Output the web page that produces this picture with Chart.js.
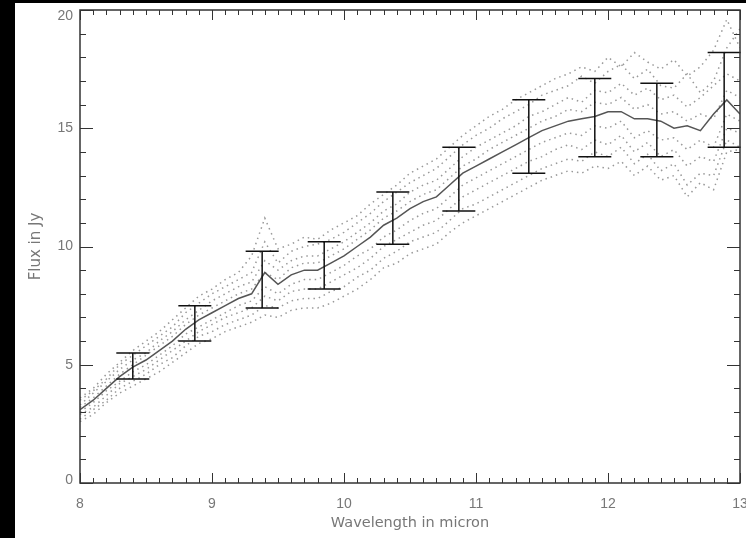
<!DOCTYPE html>
<html>
<head>
<meta charset="utf-8">
<script src="https://cdn.jsdelivr.net/npm/chart.js@4"></script>
<style>
  html, body { margin: 0; padding: 0; background: #000; overflow: hidden; }
  #wrap { position: absolute; left: 15px; top: 3px; width: 746px; height: 535px; background: #fff; }
</style>
</head>
<body>
<div id="wrap"><canvas id="chart"></canvas></div>
<script>
// wavelength grid (micron), step 0.1
const wavelength = [];
for (let i = 0; i <= 50; i++) wavelength.push(+(8 + i * 0.1).toFixed(1));

// mean spectrum (solid line)
const meanFlux = [3.1,3.5,4.0,4.5,4.9,5.2,5.6,6.0,6.5,6.9, 7.2,7.5,7.8,8.0,8.9,8.4,8.8,9.0,9.0,9.3,
  9.6,10.0,10.4,10.9,11.2,11.6,11.9,12.1,12.6,13.1, 13.4,13.7,14.0,14.3,14.6,14.9,15.1,15.3,15.4,15.5,
  15.7,15.7,15.4,15.4,15.3,15.0,15.1,14.9,15.6,16.2, 15.6];

// individual spectra (dotted lines)
const spec1 = [3.6,4.0,4.6,5.1,5.6,6.0,6.4,6.9,7.4,7.9, 8.2,8.6,8.9,9.6,11.2,9.9,10.1,10.4,10.3,10.7,
  11.0,11.3,11.8,12.2,12.6,13.1,13.4,13.7,14.2,14.7, 15.1,15.5,15.8,16.2,16.5,16.8,17.1,17.3,17.6,17.4,
  18.0,17.6,18.2,17.8,17.5,17.9,17.2,17.6,18.3,19.6, 18.4];
const spec2 = [3.5,3.9,4.4,5.0,5.4,5.8,6.2,6.6,7.2,7.6, 8.0,8.3,8.6,8.9,10.2,9.3,9.8,10.0,10.1,10.3,
  10.6,11.0,11.4,11.9,12.3,12.7,13.0,13.3,13.8,14.3, 14.7,15.0,15.4,15.7,16.0,16.4,16.6,16.8,17.2,16.9,
  17.4,17.7,17.1,17.5,16.8,16.7,17.3,16.5,17.0,18.4, 19.2];
const spec3 = [3.3,3.8,4.3,4.8,5.2,5.5,6.0,6.4,6.9,7.3, 7.7,8.0,8.3,8.5,9.4,9.0,9.4,9.6,9.6,9.9,
  10.2,10.6,11.0,11.5,11.8,12.3,12.6,12.8,13.3,13.8, 14.2,14.5,14.8,15.1,15.5,15.7,16.0,16.3,16.1,16.6,
  16.5,16.9,16.4,16.7,16.2,16.4,15.9,16.3,16.8,17.3, 17.0];
const spec4 = [3.2,3.6,4.1,4.6,5.0,5.4,5.8,6.2,6.7,7.1, 7.4,7.7,8.0,8.2,8.9,8.6,9.1,9.3,9.3,9.6,
  9.9,10.3,10.7,11.2,11.5,11.9,12.2,12.4,12.9,13.4, 13.7,14.1,14.4,14.7,15.0,15.3,15.5,15.8,15.7,16.1,
  16.0,16.3,15.8,16.0,15.6,15.7,15.3,15.6,15.4,16.6, 16.3];
const spec5 = [3.0,3.4,3.9,4.3,4.7,5.0,5.4,5.8,6.3,6.6, 6.9,7.2,7.5,7.7,8.3,8.0,8.4,8.6,8.6,8.9,
  9.2,9.6,9.9,10.4,10.7,11.1,11.4,11.6,12.1,12.6, 12.9,13.2,13.5,13.8,14.1,14.4,14.6,14.8,14.7,15.1,
  15.0,15.3,14.6,14.9,14.5,14.6,14.1,14.5,14.2,15.6, 15.3];
const spec6 = [2.9,3.2,3.7,4.2,4.5,4.8,5.2,5.6,6.0,6.4, 6.7,7.0,7.2,7.4,7.9,7.7,8.1,8.2,8.2,8.5,
  8.8,9.1,9.5,10.0,10.3,10.6,10.9,11.1,11.6,12.1, 12.4,12.7,13.0,13.3,13.6,13.8,14.1,14.3,14.1,14.5,
  14.3,14.7,14.0,14.4,13.8,14.1,13.4,13.8,13.6,15.0, 14.8];
const spec7 = [2.7,3.1,3.5,4.0,4.3,4.6,5.0,5.3,5.8,6.2, 6.4,6.7,6.9,7.1,7.5,7.4,7.7,7.8,7.8,8.1,
  8.3,8.7,9.0,9.5,9.8,10.2,10.4,10.6,11.1,11.6, 11.8,12.1,12.4,12.7,13.0,13.3,13.5,13.7,13.6,14.0,
  13.8,14.2,13.5,13.9,13.2,13.5,12.6,13.1,13.0,14.5, 14.2];
const spec8 = [2.6,2.9,3.4,3.8,4.1,4.4,4.7,5.1,5.5,5.9, 6.1,6.4,6.6,6.8,7.1,7.0,7.3,7.4,7.4,7.6,
  7.9,8.2,8.6,9.1,9.3,9.7,9.9,10.1,10.6,11.0, 11.3,11.6,11.9,12.2,12.5,12.8,13.0,13.2,13.1,13.4,
  13.3,13.6,13.0,13.4,12.8,13.0,12.1,12.7,12.4,14.0, 14.1];

// error bars
const errX  = [8.4, 8.87, 9.38, 9.85, 10.37, 10.87, 11.4, 11.9, 12.37, 12.88];
const errHi = [5.5, 7.5, 9.8, 10.2, 12.3, 14.2, 16.2, 17.1, 16.9, 18.2];
const errLo = [4.4, 6.0, 7.4, 8.2, 10.1, 11.5, 13.1, 13.8, 13.8, 14.2];

const xTicks = [8, 9, 10, 11, 12, 13];
const yTicks = [0, 5, 10, 15, 20];

const toPoints = ys => ys.map((y, i) => ({ x: wavelength[i], y: y }));

const dotted = [spec1, spec2, spec3, spec4, spec5, spec6, spec7, spec8].map(s => ({
  data: toPoints(s),
  borderColor: '#999',
  borderWidth: 1.5,
  borderDash: [1.5, 4],
  pointRadius: 0,
  tension: 0
}));

const axisColor = '#333';
const labelColor = '#777';
const tickFont = { family: 'Liberation Sans, Arial, sans-serif', size: 14 };

// axis box with inward ticks on all four sides, plus y labels (end labels kept inside the box)
const axisBox = {
  id: 'axisBox',
  afterDraw(chart) {
    const { ctx, chartArea: a, scales: { x, y } } = chart;
    ctx.save();
    ctx.strokeStyle = axisColor;
    ctx.lineWidth = 1.5;
    ctx.strokeRect(a.left, a.top, a.right - a.left, a.bottom - a.top);
    ctx.lineWidth = 1;
    ctx.beginPath();
    for (let i = 0; i <= 50; i++) {
      const v = 8 + i * 0.1;
      const px = Math.round(x.getPixelForValue(v)) + 0.5;
      const len = i % 10 === 0 ? 10 : 5;
      ctx.moveTo(px, a.bottom); ctx.lineTo(px, a.bottom - len);
      ctx.moveTo(px, a.top); ctx.lineTo(px, a.top + len);
    }
    for (let v = 0; v <= 20; v++) {
      const py = Math.round(y.getPixelForValue(v)) + 0.5;
      const len = v % 5 === 0 ? 13 : 6;
      ctx.moveTo(a.left, py); ctx.lineTo(a.left + len, py);
      ctx.moveTo(a.right, py); ctx.lineTo(a.right - len, py);
    }
    ctx.stroke();

    ctx.fillStyle = labelColor;
    ctx.font = tickFont.size + 'px ' + tickFont.family;
    ctx.textAlign = 'right';
    yTicks.forEach((v, i) => {
      let py = y.getPixelForValue(v);
      if (i === 0) { ctx.textBaseline = 'alphabetic'; py += 1; }
      else if (i === yTicks.length - 1) { ctx.textBaseline = 'top'; py -= 1; }
      else ctx.textBaseline = 'middle';
      ctx.fillText(String(v), a.left - 7, py);
    });
    ctx.restore();
  }
};

const errorBars = {
  id: 'errorBars',
  afterDatasetsDraw(chart) {
    const { ctx, scales: { x, y } } = chart;
    ctx.save();
    ctx.strokeStyle = '#111';
    ctx.lineWidth = 1.5;
    errX.forEach((xv, i) => {
      const px = x.getPixelForValue(xv);
      const pl = x.getPixelForValue(xv - 0.125);
      const pr = x.getPixelForValue(xv + 0.125);
      const pt = y.getPixelForValue(errHi[i]);
      const pb = y.getPixelForValue(errLo[i]);
      ctx.beginPath();
      ctx.moveTo(px, pt); ctx.lineTo(px, pb);
      ctx.moveTo(pl, pt); ctx.lineTo(pr, pt);
      ctx.moveTo(pl, pb); ctx.lineTo(pr, pb);
      ctx.stroke();
    });
    ctx.restore();
  }
};

new Chart(document.getElementById('chart'), {
  type: 'line',
  data: {
    datasets: [{
      data: toPoints(meanFlux),
      borderColor: '#555',
      borderWidth: 1.5,
      pointRadius: 0,
      tension: 0
    }].concat(dotted)
  },
  options: {
    responsive: true,
    maintainAspectRatio: false,
    animation: false,
    layout: { padding: { top: 7, right: 21, left: 0, bottom: 0 } },
    plugins: { legend: { display: false }, tooltip: { enabled: false } },
    scales: {
      x: {
        type: 'linear',
        min: 8, max: 13,
        afterBuildTicks: s => { s.ticks = xTicks.map(v => ({ value: v })); },
        afterFit: s => { s.height = 55; },
        grid: { display: false, drawTicks: false },
        border: { display: false },
        ticks: { color: labelColor, padding: 13, maxRotation: 0, font: tickFont },
        title: { display: true, text: 'Wavelength in micron', color: labelColor,
                 padding: { top: 0, bottom: 6 },
                 font: { family: 'DejaVu Sans, sans-serif', size: 14.5 } }
      },
      y: {
        min: 0, max: 20,
        afterBuildTicks: s => { s.ticks = yTicks.map(v => ({ value: v })); },
        afterFit: s => { s.width = 65; s.paddingTop = 0; s.paddingBottom = 0; },
        grid: { display: false, drawTicks: false },
        border: { display: false },
        ticks: { display: false },
        title: { display: true, text: 'Flux in Jy', color: labelColor,
                 padding: { top: 12, bottom: 0 },
                 font: { family: 'DejaVu Sans, sans-serif', size: 15 } }
      }
    }
  },
  plugins: [axisBox, errorBars]
});
</script>
</body>
</html>
